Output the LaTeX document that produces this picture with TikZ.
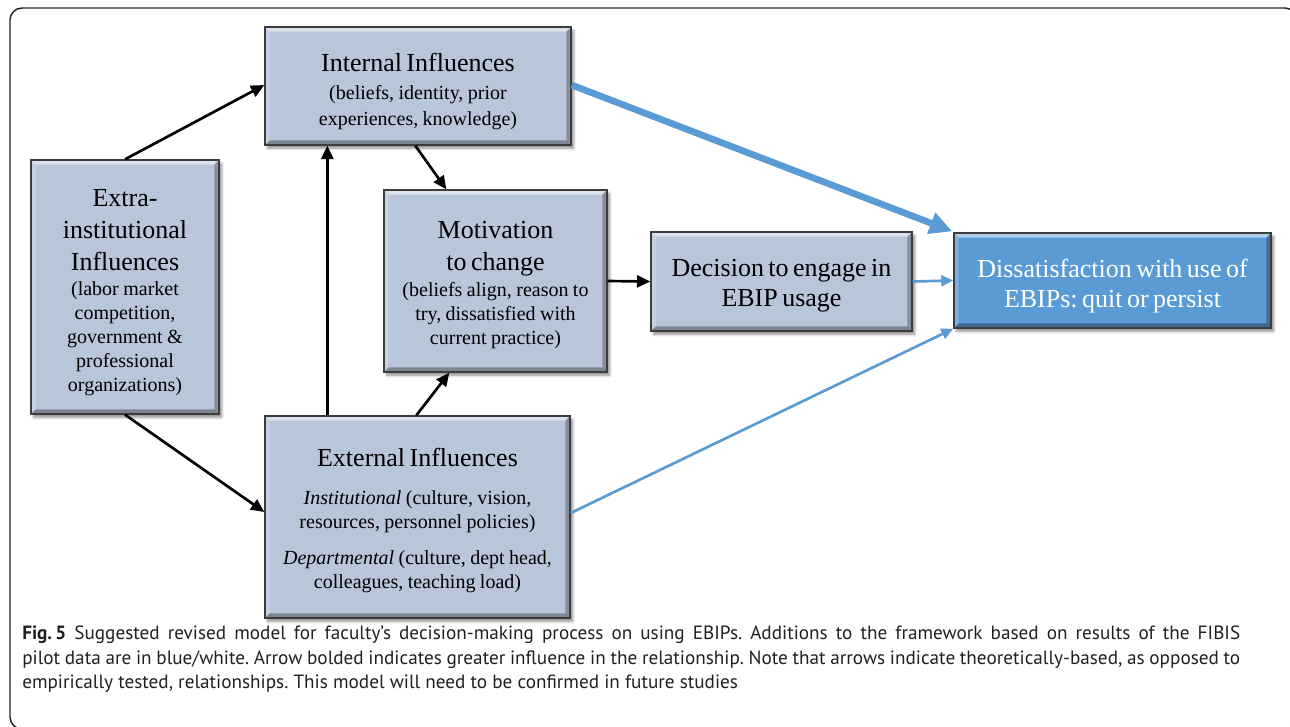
\documentclass[tikz,border=0pt]{standalone}
\usepackage{fontspec}
\setmainfont{Liberation Serif}
\newfontfamily\capfont{PT Sans}
\usetikzlibrary{arrows.meta,calc,shadows.blur}
\frenchspacing

\definecolor{boxfill}{RGB}{185,197,217}
\definecolor{boxedge}{RGB}{60,60,60}
\definecolor{accent}{RGB}{91,155,213}
\definecolor{framecol}{RGB}{35,35,35}
\definecolor{captext}{RGB}{35,31,32}

\newcommand\boxtitle{\fontsize{19.5}{24}\selectfont}
\newcommand\boxsub{\fontsize{15}{18}\selectfont}
\newcommand\capline[1]{\makebox[913.5pt][s]{#1}}

\tikzset{
  bevelbox/.style={draw=boxedge, line width=1pt, fill=#1, inner sep=0pt,
    blur shadow={shadow xshift=2pt, shadow yshift=-2.5pt,
                 shadow blur radius=2pt, shadow opacity=45},
    path picture={
      % light top and left bevel, dark right and bottom bevel
      \fill[white,opacity=.5]
        (path picture bounding box.north west) -- (path picture bounding box.north east)
        -- ([shift={(-3.5pt,-3.5pt)}]path picture bounding box.north east)
        -- ([shift={(3.5pt,-3.5pt)}]path picture bounding box.north west) -- cycle;
      \fill[white,opacity=.22]
        (path picture bounding box.north west) -- (path picture bounding box.south west)
        -- ([shift={(3.5pt,3.5pt)}]path picture bounding box.south west)
        -- ([shift={(3.5pt,-3.5pt)}]path picture bounding box.north west) -- cycle;
      \fill[black,opacity=.28]
        (path picture bounding box.north east) -- (path picture bounding box.south east)
        -- ([shift={(-3.5pt,3.5pt)}]path picture bounding box.south east)
        -- ([shift={(-3.5pt,-3.5pt)}]path picture bounding box.north east) -- cycle;
      \fill[black,opacity=.32]
        (path picture bounding box.south west) -- (path picture bounding box.south east)
        -- ([shift={(-3.5pt,3.5pt)}]path picture bounding box.south east)
        -- ([shift={(3.5pt,3.5pt)}]path picture bounding box.south west) -- cycle;
    }},
  boxtext/.style={inner sep=0pt, align=center},
  blackarr/.style={-{Triangle[length=10pt,width=9pt]}, line width=2pt, black},
  thinblue/.style={-{Triangle[length=9pt,width=8pt]}, line width=2pt, accent},
  thickblue/.style={-{Triangle[length=17pt,width=16pt]}, line width=5pt, accent},
  captionline/.style={anchor=base west, text=captext,
    font=\capfont\fontsize{14.4}{17}\selectfont, inner sep=0pt},
}

\begin{document}
\begin{tikzpicture}[x=0.75pt,y=-0.75pt]
\useasboundingbox (0,0) rectangle (1290,726);
\clip (0,0) rectangle (1290,726);

% outer frame of the figure panel
\draw[framecol, line width=1.1pt, rounded corners=9pt] (10,8) rectangle (1297,729);

% boxes
\node[bevelbox=boxfill, minimum width=306*.75pt, minimum height=118*.75pt] (int) at (418,86) {};
\node[bevelbox=boxfill, minimum width=188*.75pt, minimum height=254*.75pt] (extra) at (125,287) {};
\node[bevelbox=boxfill, minimum width=223*.75pt, minimum height=182*.75pt] (mot) at (495.5,281) {};
\node[bevelbox=boxfill, minimum width=261*.75pt, minimum height=99*.75pt] (dec) at (781.5,281.5) {};
\node[bevelbox=accent, minimum width=317*.75pt, minimum height=95*.75pt] (dis) at (1112.5,280.5) {};
\node[bevelbox=boxfill, minimum width=305*.75pt, minimum height=202*.75pt] (ext) at (417.5,517) {};

% box texts
\node[boxtext, text width=296*.75pt] (int-t) at ($(int.center)+(0,5)$)
  {{\boxtitle Internal Influences\par}\vspace{1.5pt}%
   {\fontsize{15}{19.5}\selectfont (beliefs, identity, prior\\experiences, knowledge)\par}};

\node[boxtext, text width=180*.75pt] (extra-t) at ($(extra.center)+(0,5.5)$)
  {{\boxtitle Extra-\\institutional\\Influences\par}\vspace{0.75pt}%
   {\boxsub (labor market\\competition,\\government \&\\professional\\organizations)\par}};

\node[boxtext, text width=215*.75pt] (mot-t) at ($(mot.center)+(0,4.5)$)
  {{\boxtitle Motivation\\to change\par}\vspace{1.5pt}%
   {\boxsub (beliefs align, reason to\\try, dissatisfied with\\current practice)\par}};

\node[boxtext, text width=253*.75pt] (dec-t) at ($(dec.center)+(0,4)$)
  {{\fontsize{19.5}{22.5}\selectfont Decision to engage in\\EBIP usage\par}};

\node[boxtext, text=white, text width=309*.75pt] (dis-t) at ($(dis.center)+(0,5.5)$)
  {{\fontsize{19.5}{22.5}\selectfont Dissatisfaction with use of\\EBIPs: quit or persist\par}};

\node[boxtext, text width=297*.75pt] (ext-t) at ($(ext.center)+(0,3)$)
  {{\boxtitle External Influences\par}\vspace{10.5pt}%
   {\boxsub \textit{Institutional} (culture, vision,\\resources, personnel policies)\par}\vspace{9pt}%
   {\boxsub \textit{Departmental} (culture, dept head,\\colleagues, teaching load)\par}};

% black connectors
\draw[blackarr] (extra.north) -- ($(int.west)+(0,-1)$);
\draw[blackarr] (extra.south) -- ($(ext.west)+(0,-5)$);
\draw[blackarr] ($(ext.north west)+(63,0)$) -- ($(int.south west)+(63,0)$);
\draw[blackarr] ($(int.south west)+(151,0)$) -- ($(mot.north west)+(63,0)$);
\draw[blackarr] ($(ext.north west)+(152,0)$) -- ($(mot.south west)+(66,0)$);
\draw[blackarr] (mot.east) -- (dec.west);

% blue connectors into the outcome box
\draw[thickblue] ($(int.east)+(0,-1)$) -- ($(dis.north west)+(-1,-1)$);
\draw[thinblue] (dec.east) -- (dis.west);
\draw[thinblue] ($(ext.east)+(0,-4)$) -- (dis.south west);

% caption
\node[captionline] (cap1) at (22,639) {\capline{\textbf{Fig.\,5} Suggested revised model for faculty’s decision-making process on using EBIPs. Additions to the framework based on results of the FIBIS}};
\node[captionline] (cap2) at (22,664) {\capline{pilot data are in blue/white. Arrow bolded indicates greater influence in the relationship. Note that arrows indicate theoretically-based, as opposed to}};
\node[captionline] (cap3) at (22,688) {empirically tested, relationships. This model will need to be confirmed in future studies};
\end{tikzpicture}
\end{document}
